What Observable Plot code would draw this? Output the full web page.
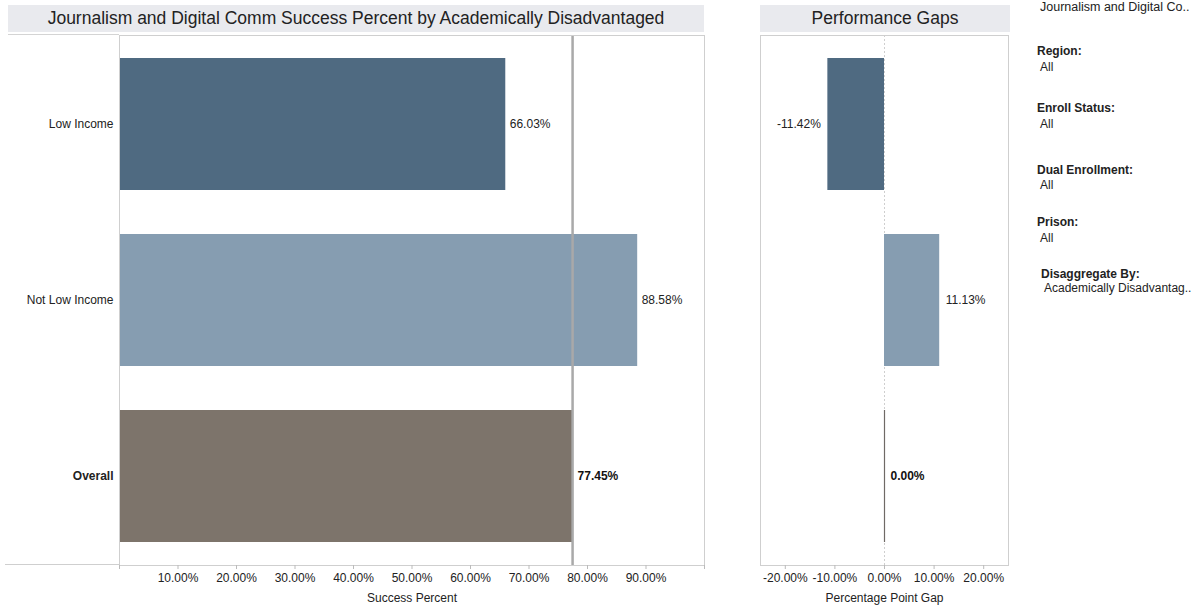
<!DOCTYPE html>
<html><head><meta charset="utf-8">
<script src="https://cdn.jsdelivr.net/npm/d3@7"></script>
<script src="https://cdn.jsdelivr.net/npm/@observablehq/plot@0.6"></script>
<style>
  body{margin:0;background:#fff;font-family:"Liberation Sans",Arial,sans-serif;color:#222;}
  #wrap{position:relative;width:1192px;height:607px;overflow:hidden;}
  .band{position:absolute;background:#e9eaee;text-align:center;font-size:17.5px;line-height:27px;color:#222;}
  .abs{position:absolute;white-space:nowrap;font-size:12px;line-height:14px;}
  .lbl{font-weight:bold;}
</style></head>
<body><div id="wrap"></div>
<script>
const categories = ["Low Income", "Not Low Income", "Overall"];
const successPct = [0.6603, 0.8858, 0.7745];
const gaps = [-0.1142, 0.1113, 0.0];
const barColors = ["#4f6a81", "#869db1", "#7d746b"];
const successTicks = [0, 0.1, 0.2, 0.3, 0.4, 0.5, 0.6, 0.7, 0.8, 0.9, 1.0];
const gapTicks = [-0.2, -0.1, 0, 0.1, 0.2];
const mainTitle = "Journalism and Digital Comm Success Percent by Academically Disadvantaged";
const gapTitle = "Performance Gaps";
const filterProgram = "Journalism and Digital Co..";
const filterLabels = ["Region:", "Enroll Status:", "Dual Enrollment:", "Prison:", "Disaggregate By:"];
const filterValues = ["All", "All", "All", "All", "Academically Disadvantag.."];

const rows = categories.map((c, i) => ({cat: c, pct: successPct[i], gap: gaps[i], color: barColors[i]}));
const overall = rows.find(r => r.cat === "Overall");
const pctFmt = d => d3.format(".2%")(d).replace("\u2212", "-");
const wrap = document.getElementById("wrap");

function add(el, css) { Object.assign(el.style, css); wrap.appendChild(el); return el; }
function div(cls, text, css) { const d = document.createElement("div"); d.className = cls; d.textContent = text; return add(d, css); }

// title bands
div("band", mainTitle, {left: "8px", top: "5px", width: "696px", height: "27px"});
div("band", gapTitle, {left: "760px", top: "5px", width: "250px", height: "27px"});
// label area top border and extended axis line
add(document.createElement("div"), {position: "absolute", left: "8px", top: "34px", width: "111px", height: "0", borderTop: "1px solid #d4d4d4"});
add(document.createElement("div"), {position: "absolute", left: "5px", top: "564px", width: "114px", height: "0", borderTop: "1px solid #cfcfcf"});

const style = {fontFamily: "Liberation Sans, Arial, sans-serif", fontSize: "12px", color: "#222", background: "transparent", overflow: "visible"};
const yScale = {domain: categories, paddingInner: 0.25, paddingOuter: 0.125, align: 0.5};

// left chart
const left = Plot.plot({
  width: 697, height: 574,
  marginLeft: 111, marginRight: 1, marginTop: 1, marginBottom: 43,
  style,
  x: {domain: [0, 1]},
  y: yScale,
  marks: [
    Plot.barX(rows, {y: "cat", x1: 0, x2: "pct", fill: "color"}),
    Plot.ruleX([overall.pct], {stroke: "#a9a9a9", strokeWidth: 2.5}),
    Plot.text(rows.filter(r => r.cat !== "Overall"), {y: "cat", x: "pct", text: d => pctFmt(d.pct), textAnchor: "start", dx: 4, fill: "#222"}),
    Plot.text([overall], {y: "cat", x: "pct", text: d => pctFmt(d.pct), textAnchor: "start", dx: 5, fill: "#111", fontWeight: "bold"}),
    Plot.frame({stroke: "#cfcfcf"}),
    Plot.axisY({tickSize: 0, tickPadding: 6, label: null, fill: "#222"}),
    Plot.axisX({ticks: successTicks, tickFormat: d => (d === 0 || d === 1) ? "" : pctFmt(d), tickSize: 4, tickPadding: 4, stroke: "#bbb", label: "Success Percent", labelAnchor: "center", labelArrow: "none", labelOffset: 36})
  ]
});
left.querySelectorAll("text").forEach(t => { if (t.textContent === "Overall") t.setAttribute("font-weight", "bold"); });
add(left, {position: "absolute", left: "8px", top: "34px"});

// right chart
const right = Plot.plot({
  width: 270, height: 574,
  marginLeft: 20, marginRight: 2, marginTop: 1, marginBottom: 43,
  style,
  x: {domain: [-0.25, 0.25]},
  y: {...yScale, axis: null},
  marks: [
    Plot.ruleX([0], {stroke: "#cfcfcf", strokeDasharray: "2,2"}),
    Plot.barX(rows.filter(r => r.gap !== 0), {y: "cat", x1: 0, x2: "gap", fill: "color"}),
    Plot.tickX(rows.filter(r => r.gap === 0), {y: "cat", x: "gap", stroke: "#6f6a66", strokeWidth: 1.2}),
    Plot.text(rows.filter(r => r.gap < 0), {y: "cat", x: "gap", text: d => pctFmt(d.gap), textAnchor: "end", dx: -7, fill: "#222"}),
    Plot.text(rows.filter(r => r.gap > 0), {y: "cat", x: "gap", text: d => pctFmt(d.gap), textAnchor: "start", dx: 6, fill: "#222"}),
    Plot.text(rows.filter(r => r.gap === 0), {y: "cat", x: "gap", text: d => pctFmt(d.gap), textAnchor: "start", dx: 6, fill: "#111", fontWeight: "bold"}),
    Plot.frame({stroke: "#cfcfcf"}),
    Plot.axisX({ticks: gapTicks, tickFormat: pctFmt, tickSize: 4, tickPadding: 4, stroke: "#bbb", label: "Percentage Point Gap", labelAnchor: "center", labelArrow: "none", labelOffset: 36})
  ]
});
add(right, {position: "absolute", left: "740px", top: "34px"});

// filter panel
div("abs", filterProgram, {left: "1040px", top: "0px", fontSize: "12.5px"});
const labelTops = [44, 101, 163, 215, 267];
const valueOffsets = [16, 16, 15, 16, 14];
filterLabels.forEach((l, i) => {
  const dx = i === 4 ? 4 : 0;
  div("abs lbl", l, {left: (1037 + dx) + "px", top: labelTops[i] + "px"});
  div("abs", filterValues[i], {left: (1040 + dx) + "px", top: (labelTops[i] + valueOffsets[i]) + "px"});
});
</script></body></html>
